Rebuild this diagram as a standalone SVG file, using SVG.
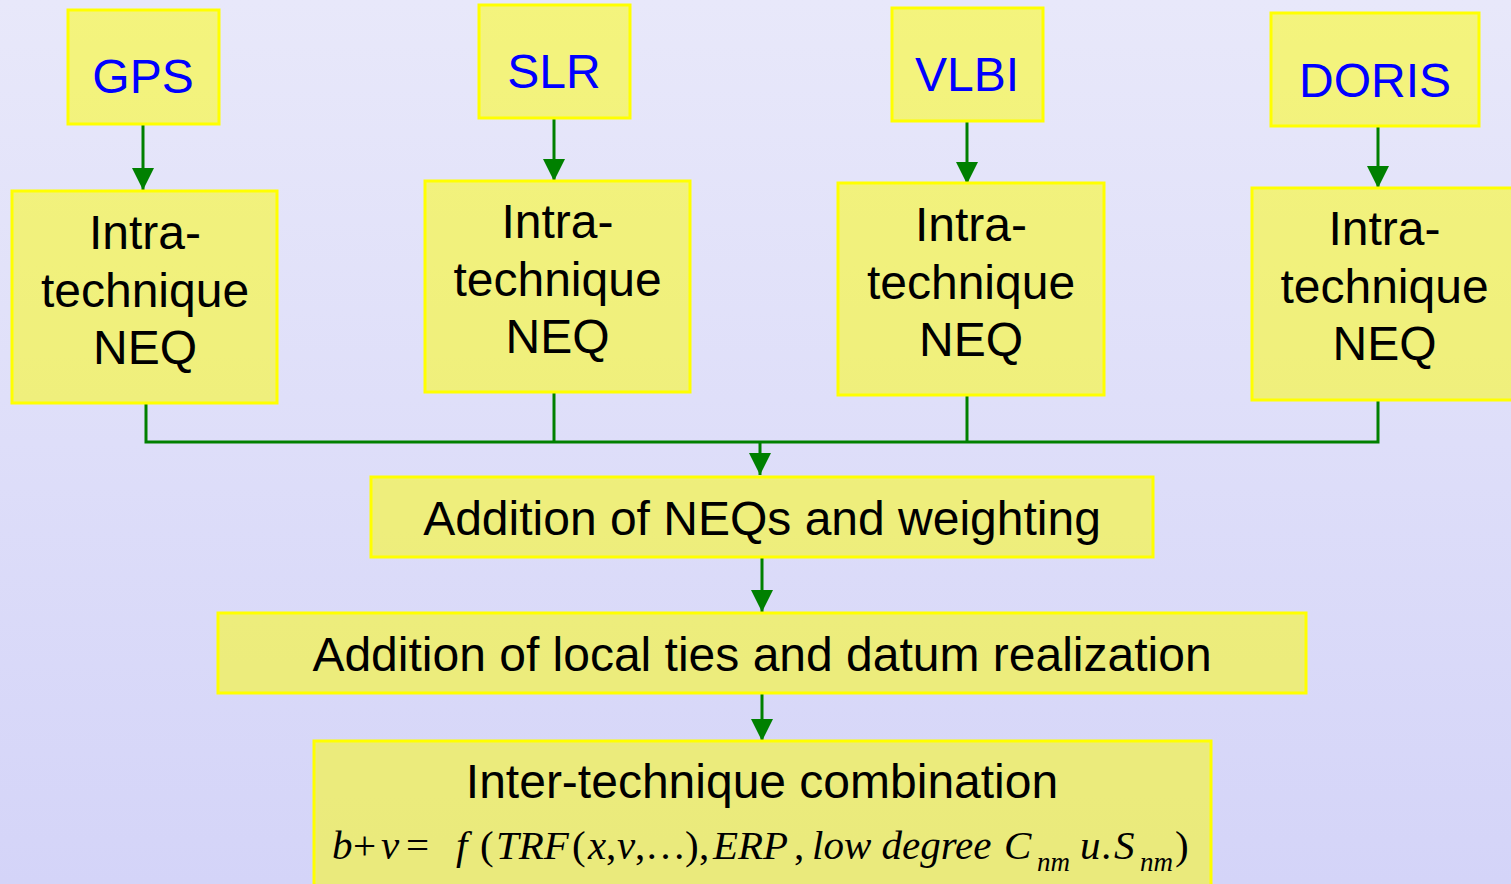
<svg xmlns="http://www.w3.org/2000/svg" width="1511" height="884" viewBox="0 0 1511 884">
<defs>
<linearGradient id="bg" x1="0" y1="0" x2="0" y2="1">
<stop offset="0" stop-color="#E8E8FA"/>
<stop offset="1" stop-color="#D4D4F8"/>
</linearGradient>
<marker id="ah" markerUnits="userSpaceOnUse" markerWidth="22" markerHeight="22" refX="22" refY="11" orient="auto" viewBox="0 0 22 22">
<path d="M0,0 L22,11 L0,22 Z" fill="#008000"/>
</marker>
<style>
.box{fill:#FFFF00;fill-opacity:0.5;stroke:#FFFF00;stroke-width:3}
.lbl{font-family:"Liberation Sans",Arial,sans-serif;font-size:48px;fill:#0000FF;text-anchor:middle}
.txt{font-family:"Liberation Sans",Arial,sans-serif;font-size:48px;fill:#000;text-anchor:middle}
.con{stroke:#008000;stroke-width:3;fill:none}
.fm{font-family:"Liberation Serif","Times New Roman",serif;font-size:41px;fill:#000}
.it{font-style:italic}
.sub{font-style:italic;font-size:27px}
</style>
</defs>
<rect x="0" y="0" width="1511" height="884" fill="url(#bg)"/>

<g id="connectors">
<line class="con" x1="143" y1="124" x2="143" y2="190" marker-end="url(#ah)"/>
<line class="con" x1="554" y1="118" x2="554" y2="181" marker-end="url(#ah)"/>
<line class="con" x1="967" y1="121" x2="967" y2="184" marker-end="url(#ah)"/>
<line class="con" x1="1378" y1="126" x2="1378" y2="188" marker-end="url(#ah)"/>
<polyline class="con" points="146,403 146,442 1378,442 1378,400"/>
<line class="con" x1="554" y1="392" x2="554" y2="442"/>
<line class="con" x1="967" y1="395" x2="967" y2="442"/>
<line class="con" x1="760" y1="442" x2="760" y2="475" marker-end="url(#ah)"/>
<line class="con" x1="762" y1="557" x2="762" y2="612" marker-end="url(#ah)"/>
<line class="con" x1="762" y1="693" x2="762" y2="741" marker-end="url(#ah)"/>
</g>

<g id="gps"><rect class="box" x="68" y="10" width="151" height="114"/><text class="lbl" x="143" y="93">GPS</text></g>
<g id="slr"><rect class="box" x="479" y="5" width="151" height="113"/><text class="lbl" x="554" y="88">SLR</text></g>
<g id="vlbi"><rect class="box" x="892" y="8" width="151" height="113"/><text class="lbl" x="967" y="91">VLBI</text></g>
<g id="doris"><rect class="box" x="1271" y="13" width="208" height="113"/><text class="lbl" x="1375" y="97">DORIS</text></g>

<g id="neq-gps"><rect class="box" x="12" y="191" width="265" height="212"/>
<text class="txt" x="145" y="249">Intra-</text><text class="txt" x="145" y="307">technique</text><text class="txt" x="145" y="364">NEQ</text></g>
<g id="neq-slr"><rect class="box" x="425" y="181" width="265" height="211"/>
<text class="txt" x="557.5" y="238">Intra-</text><text class="txt" x="557.5" y="296">technique</text><text class="txt" x="557.5" y="353">NEQ</text></g>
<g id="neq-vlbi"><rect class="box" x="838" y="183" width="266" height="212"/>
<text class="txt" x="971" y="241">Intra-</text><text class="txt" x="971" y="299">technique</text><text class="txt" x="971" y="356">NEQ</text></g>
<g id="neq-doris"><rect class="box" x="1252" y="188" width="265" height="212"/>
<text class="txt" x="1384.5" y="245">Intra-</text><text class="txt" x="1384.5" y="303">technique</text><text class="txt" x="1384.5" y="360">NEQ</text></g>

<g id="addition"><rect class="box" x="371" y="477" width="782" height="80"/>
<text class="txt" x="762" y="535">Addition of NEQs and weighting</text></g>
<g id="localties"><rect class="box" x="218" y="613" width="1088" height="80"/>
<text class="txt" x="762" y="671">Addition of local ties and datum realization</text></g>
<g id="combination"><rect class="box" x="314" y="741" width="897" height="150"/>
<text class="txt" x="762" y="798">Inter-technique combination</text>
<text class="fm" y="859"><tspan class="it" x="332">b</tspan><tspan x="353">+</tspan><tspan class="it" x="381">v</tspan><tspan x="406">=</tspan><tspan class="it" x="456">f</tspan><tspan x="480">(</tspan><tspan class="it" x="496">TRF</tspan><tspan x="572">(</tspan><tspan class="it" x="588">x</tspan><tspan x="606">,</tspan><tspan class="it" x="617">v</tspan><tspan x="635">,</tspan><tspan x="645">…</tspan><tspan x="685">)</tspan><tspan x="699">,</tspan><tspan class="it" x="713">ERP</tspan><tspan x="794">,</tspan><tspan class="it" x="812">low degree</tspan><tspan class="it" x="1004">C</tspan><tspan class="sub" x="1037" y="871">nm</tspan><tspan class="it" x="1080" y="859">u</tspan><tspan x="1101">.</tspan><tspan class="it" x="1114">S</tspan><tspan class="sub" x="1140" y="871">nm</tspan><tspan x="1175" y="859">)</tspan></text>
</g>
</svg>
